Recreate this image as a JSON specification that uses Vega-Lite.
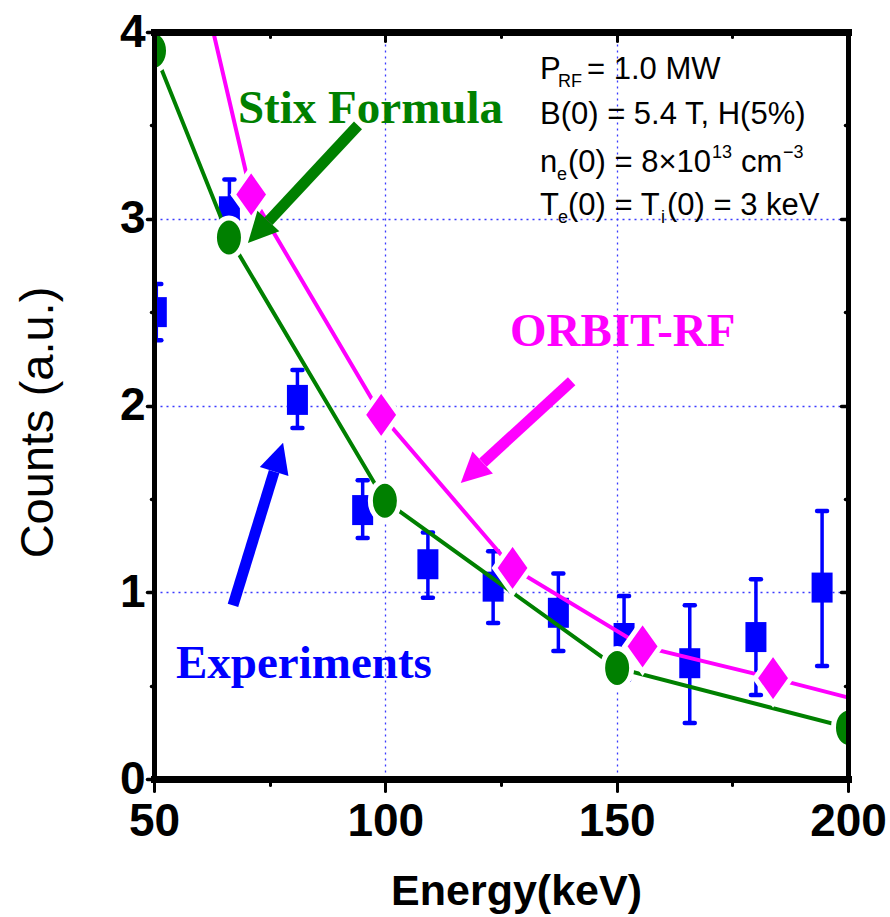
{
  "$schema": "https://vega.github.io/schema/vega-lite/v6.json",
  "width": 694,
  "height": 747,
  "autosize": {"type": "none"},
  "padding": {"left": 154, "top": 32, "right": 42, "bottom": 138},
  "background": "white",
  "config": {"view": {"stroke": null}},
  "datasets": {
    "experiments": [
      {"energy": 50.5, "counts": 2.50, "lo": 2.35, "hi": 2.65},
      {"energy": 66.3, "counts": 3.04, "lo": 2.87, "hi": 3.21},
      {"energy": 81.0, "counts": 2.03, "lo": 1.88, "hi": 2.19},
      {"energy": 95.1, "counts": 1.44, "lo": 1.29, "hi": 1.60},
      {"energy": 109.2, "counts": 1.15, "lo": 0.97, "hi": 1.32},
      {"energy": 123.3, "counts": 1.03, "lo": 0.835, "hi": 1.22},
      {"energy": 137.4, "counts": 0.89, "lo": 0.685, "hi": 1.10},
      {"energy": 151.6, "counts": 0.755, "lo": 0.53, "hi": 0.98},
      {"energy": 165.8, "counts": 0.62, "lo": 0.30, "hi": 0.93},
      {"energy": 180.1, "counts": 0.76, "lo": 0.45, "hi": 1.07},
      {"energy": 194.4, "counts": 1.025, "lo": 0.605, "hi": 1.435}
    ],
    "stix": [
      {"energy": 50, "counts": 3.90},
      {"energy": 66.2, "counts": 2.90},
      {"energy": 99.9, "counts": 1.49},
      {"energy": 150.1, "counts": 0.595},
      {"energy": 200, "counts": 0.275}
    ],
    "orbit": [
      {"energy": 60, "counts": 4.30},
      {"energy": 71.0, "counts": 3.13},
      {"energy": 99.1, "counts": 1.95},
      {"energy": 127.5, "counts": 1.13},
      {"energy": 155.6, "counts": 0.71},
      {"energy": 183.8, "counts": 0.54},
      {"energy": 212, "counts": 0.36}
    ],
    "arrows": [
      {"series": "Experiments", "tx": 67.07, "ty": 0.93, "bx": 75.96, "by": 1.646, "hx": 77.9, "hy": 1.80},
      {"series": "Stix Formula", "tx": 94.09, "ty": 3.50, "bx": 74.75, "by": 2.987, "hx": 70.3, "hy": 2.87},
      {"series": "ORBIT-RF", "tx": 140.27, "ty": 2.13, "bx": 121.1, "by": 1.694, "hx": 116.3, "hy": 1.585}
    ],
    "seriesLabels": [
      {"series": "Stix Formula", "x": 68.15, "y": 3.513},
      {"series": "ORBIT-RF", "x": 126.94, "y": 2.32},
      {"series": "Experiments", "x": 54.75, "y": 0.539}
    ],
    "paramsMain": [
      {"t": "P", "x": 133.42, "y": 3.748},
      {"t": "= 1.0 MW", "x": 143.58, "y": 3.748},
      {"t": "B(0) = 5.4 T, H(5%)", "x": 133.42, "y": 3.507},
      {"t": "n", "x": 133.42, "y": 3.250},
      {"t": "(0) = 8×10", "x": 139.48, "y": 3.250},
      {"t": "cm", "x": 176.87, "y": 3.250},
      {"t": "T", "x": 133.42, "y": 3.020},
      {"t": "(0) = T", "x": 139.48, "y": 3.020},
      {"t": "(0) = 3 keV", "x": 160.87, "y": 3.020}
    ],
    "paramsSmall": [
      {"t": "RF", "x": 137.31, "y": 3.706},
      {"t": "e", "x": 137.10, "y": 3.208},
      {"t": "13", "x": 170.60, "y": 3.325},
      {"t": "−3", "x": 185.94, "y": 3.325},
      {"t": "e", "x": 137.30, "y": 2.977},
      {"t": "i", "x": 159.57, "y": 2.977}
    ]
  },
  "resolve": {"axis": {"x": "independent", "y": "independent"}},
  "layer": [
    {
      "data": {"name": "experiments"},
      "mark": {"type": "rule", "color": "#0000ff", "strokeWidth": 3.5, "clip": true},
      "encoding": {
        "x": {"field": "energy", "type": "quantitative", "scale": {"domain": [50, 200], "nice": false, "zero": false},
          "axis": {"orient": "bottom", "values": [100, 150], "grid": true, "gridColor": "#3a3aff", "gridDash": [2, 4], "gridWidth": 1.3, "domain": false, "ticks": false, "labels": false, "title": null, "zindex": 0}},
        "y": {"field": "lo", "type": "quantitative", "scale": {"domain": [0, 4], "nice": false, "zero": false},
          "axis": {"orient": "left", "values": [1, 2, 3], "grid": true, "gridColor": "#3a3aff", "gridDash": [2, 4], "gridWidth": 1.3, "domain": false, "ticks": false, "labels": false, "title": null, "zindex": 0}},
        "y2": {"field": "hi"}
      }
    },
    {
      "data": {"name": "experiments"},
      "mark": {"type": "point", "shape": "M-1,0L1,0", "size": 100, "filled": false, "stroke": "#0000ff", "strokeWidth": 4.5, "strokeCap": "round", "opacity": 1, "clip": true},
      "encoding": {
        "x": {"field": "energy", "type": "quantitative", "scale": {"domain": [50, 200], "nice": false, "zero": false},
          "axis": {"orient": "bottom", "values": [50, 75, 100, 125, 150, 175, 200], "labelExpr": "datum.value % 50 === 0 ? format(datum.value, 'd') : ''",
            "grid": false, "zindex": 1, "domainColor": "black", "domainWidth": 7, "domainCap": "square",
            "tickColor": "black", "tickWidth": 3, "tickCap": "round", "tickSize": {"condition": {"test": "datum.value % 50 === 0", "value": 12}, "value": 6},
            "labelFont": "Liberation Sans", "labelFontWeight": "bold", "labelFontSize": 46, "labelColor": "black", "labelPadding": 8, "labelFlush": false, "labelOverlap": false, "labelBound": false,
            "title": "Energy(keV)", "titleFont": "Liberation Sans", "titleFontWeight": "bold", "titleFontSize": 43, "titleColor": "black", "titleX": 362, "titleY": 125, "titleAlign": "center", "titleBaseline": "alphabetic"}},
        "y": {"field": "lo", "type": "quantitative", "scale": {"domain": [0, 4], "nice": false, "zero": false},
          "axis": {"orient": "left", "values": [0, 0.5, 1, 1.5, 2, 2.5, 3, 3.5, 4], "labelExpr": "datum.value % 1 === 0 ? format(datum.value, 'd') : ''",
            "grid": false, "zindex": 1, "domainColor": "black", "domainWidth": 5, "domainCap": "square",
            "tickColor": "black", "tickWidth": 3.5, "tickCap": "round", "tickSize": {"condition": {"test": "datum.value % 1 === 0", "value": 7}, "value": 3},
            "labelFont": "Liberation Sans", "labelFontWeight": "bold", "labelFontSize": 46, "labelColor": "black", "labelPadding": 2, "labelFlush": false, "labelOverlap": false, "labelBound": false,
            "title": "Counts (a.u.)", "titleFont": "Liberation Sans", "titleFontWeight": "normal", "titleFontSize": 47, "titleColor": "black", "titleAngle": 270, "titleX": -116, "titleY": 390, "titleAlign": "center", "titleBaseline": "middle"}}
      }
    },
    {
      "data": {"name": "experiments"},
      "mark": {"type": "point", "shape": "M-1,0L1,0", "size": 100, "filled": false, "stroke": "#0000ff", "strokeWidth": 4.5, "strokeCap": "round", "opacity": 1, "clip": true},
      "encoding": {
        "x": {"field": "energy", "type": "quantitative", "scale": {"domain": [50, 200], "nice": false, "zero": false},
          "axis": {"orient": "top", "values": [50, 75, 100, 125, 150, 175, 200], "labels": false, "title": null, "grid": false, "zindex": 1,
            "domainColor": "black", "domainWidth": 7, "domainCap": "square", "tickColor": "black", "tickWidth": 3, "tickCap": "round",
            "tickSize": {"condition": {"test": "datum.value % 50 === 0", "value": -9}, "value": -5}}},
        "y": {"field": "hi", "type": "quantitative", "scale": {"domain": [0, 4], "nice": false, "zero": false},
          "axis": {"orient": "right", "values": [0, 0.5, 1, 1.5, 2, 2.5, 3, 3.5, 4], "labels": false, "title": null, "grid": false, "zindex": 1,
            "domainColor": "black", "domainWidth": 5, "domainCap": "square", "tickColor": "black", "tickWidth": 3.5, "tickCap": "round",
            "tickSize": {"condition": {"test": "datum.value % 1 === 0", "value": -7}, "value": -3}}}
      }
    },
    {
      "data": {"name": "experiments"},
      "mark": {"type": "point", "shape": "M-0.7,-1L0.7,-1L0.7,1L-0.7,1Z", "size": 900, "filled": true, "color": "#0000ff", "opacity": 1, "strokeWidth": 0, "clip": true},
      "encoding": {
        "x": {"field": "energy", "type": "quantitative", "scale": {"domain": [50, 200], "nice": false, "zero": false}, "axis": null},
        "y": {"field": "counts", "type": "quantitative", "scale": {"domain": [0, 4], "nice": false, "zero": false}, "axis": null}
      }
    },
    {
      "data": {"name": "stix"},
      "mark": {"type": "line", "color": "#008000", "strokeWidth": 4, "clip": true},
      "encoding": {
        "x": {"field": "energy", "type": "quantitative", "scale": {"domain": [50, 200], "nice": false, "zero": false}, "axis": null},
        "y": {"field": "counts", "type": "quantitative", "scale": {"domain": [0, 4], "nice": false, "zero": false}, "axis": null}
      }
    },
    {
      "data": {"name": "orbit"},
      "mark": {"type": "line", "color": "#ff00ff", "strokeWidth": 4, "clip": true},
      "encoding": {
        "x": {"field": "energy", "type": "quantitative", "scale": {"domain": [50, 200], "nice": false, "zero": false}, "axis": null},
        "y": {"field": "counts", "type": "quantitative", "scale": {"domain": [0, 4], "nice": false, "zero": false}, "axis": null}
      }
    },
    {
      "data": {"name": "stix"},
      "mark": {"type": "point", "shape": "M0,-1C0.411,-1 0.744,-0.552 0.744,0C0.744,0.552 0.411,1 0,1C-0.411,1 -0.744,0.552 -0.744,0C-0.744,-0.552 -0.411,-1 0,-1Z", "size": 1521, "filled": true, "fill": "#008000", "stroke": "white", "strokeWidth": 5, "opacity": 1, "strokeOpacity": 1, "clip": true},
      "encoding": {
        "x": {"field": "energy", "type": "quantitative", "scale": {"domain": [50, 200], "nice": false, "zero": false}, "axis": null},
        "y": {"field": "counts", "type": "quantitative", "scale": {"domain": [0, 4], "nice": false, "zero": false}, "axis": null}
      }
    },
    {
      "data": {"name": "orbit"},
      "mark": {"type": "point", "shape": "M0,-1L0.71,0L0,1L-0.71,0Z", "size": 2560, "filled": true, "fill": "#ff00ff", "stroke": "white", "strokeWidth": 5, "opacity": 1, "strokeOpacity": 1, "clip": true},
      "encoding": {
        "x": {"field": "energy", "type": "quantitative", "scale": {"domain": [50, 200], "nice": false, "zero": false}, "axis": null},
        "y": {"field": "counts", "type": "quantitative", "scale": {"domain": [0, 4], "nice": false, "zero": false}, "axis": null}
      }
    },
    {
      "data": {"name": "arrows"},
      "mark": {"type": "rule", "strokeWidth": 11, "strokeCap": "butt"},
      "encoding": {
        "x": {"field": "tx", "type": "quantitative", "scale": {"domain": [50, 200], "nice": false, "zero": false}, "axis": null},
        "y": {"field": "ty", "type": "quantitative", "scale": {"domain": [0, 4], "nice": false, "zero": false}, "axis": null},
        "x2": {"field": "bx"},
        "y2": {"field": "by"},
        "color": {"field": "series", "type": "nominal", "scale": {"domain": ["Experiments", "Stix Formula", "ORBIT-RF"], "range": ["#0000ff", "#008000", "#ff00ff"]}, "legend": null}
      }
    },
    {
      "data": {"name": "arrows"},
      "transform": [{"filter": "datum.series === 'Experiments'"}],
      "mark": {"type": "point", "shape": "M0,0L0.5,1L-0.5,1Z", "size": 3600, "filled": true, "color": "#0000ff", "opacity": 1, "strokeWidth": 0, "angle": 17.4},
      "encoding": {
        "x": {"field": "hx", "type": "quantitative", "scale": {"domain": [50, 200], "nice": false, "zero": false}, "axis": null},
        "y": {"field": "hy", "type": "quantitative", "scale": {"domain": [0, 4], "nice": false, "zero": false}, "axis": null}
      }
    },
    {
      "data": {"name": "arrows"},
      "transform": [{"filter": "datum.series === 'Stix Formula'"}],
      "mark": {"type": "point", "shape": "M0,0L0.5,1L-0.5,1Z", "size": 3600, "filled": true, "color": "#008000", "opacity": 1, "strokeWidth": 0, "angle": 223},
      "encoding": {
        "x": {"field": "hx", "type": "quantitative", "scale": {"domain": [50, 200], "nice": false, "zero": false}, "axis": null},
        "y": {"field": "hy", "type": "quantitative", "scale": {"domain": [0, 4], "nice": false, "zero": false}, "axis": null}
      }
    },
    {
      "data": {"name": "arrows"},
      "transform": [{"filter": "datum.series === 'ORBIT-RF'"}],
      "mark": {"type": "point", "shape": "M0,0L0.5,1L-0.5,1Z", "size": 3600, "filled": true, "color": "#ff00ff", "opacity": 1, "strokeWidth": 0, "angle": 227},
      "encoding": {
        "x": {"field": "hx", "type": "quantitative", "scale": {"domain": [50, 200], "nice": false, "zero": false}, "axis": null},
        "y": {"field": "hy", "type": "quantitative", "scale": {"domain": [0, 4], "nice": false, "zero": false}, "axis": null}
      }
    },
    {
      "data": {"name": "seriesLabels"},
      "mark": {"type": "text", "font": "Liberation Serif", "fontWeight": "bold", "fontSize": 47, "align": "left", "baseline": "alphabetic"},
      "encoding": {
        "x": {"field": "x", "type": "quantitative", "scale": {"domain": [50, 200], "nice": false, "zero": false}, "axis": null},
        "y": {"field": "y", "type": "quantitative", "scale": {"domain": [0, 4], "nice": false, "zero": false}, "axis": null},
        "text": {"field": "series"},
        "color": {"field": "series", "type": "nominal", "scale": {"domain": ["Experiments", "Stix Formula", "ORBIT-RF"], "range": ["#0000ff", "#008000", "#ff00ff"]}, "legend": null}
      }
    },
    {
      "data": {"name": "paramsMain"},
      "mark": {"type": "text", "font": "Liberation Sans", "fontSize": 31, "align": "left", "baseline": "alphabetic", "color": "black"},
      "encoding": {
        "x": {"field": "x", "type": "quantitative", "scale": {"domain": [50, 200], "nice": false, "zero": false}, "axis": null},
        "y": {"field": "y", "type": "quantitative", "scale": {"domain": [0, 4], "nice": false, "zero": false}, "axis": null},
        "text": {"field": "t"}
      }
    },
    {
      "data": {"name": "paramsSmall"},
      "mark": {"type": "text", "font": "Liberation Sans", "fontSize": 18, "align": "left", "baseline": "alphabetic", "color": "black"},
      "encoding": {
        "x": {"field": "x", "type": "quantitative", "scale": {"domain": [50, 200], "nice": false, "zero": false}, "axis": null},
        "y": {"field": "y", "type": "quantitative", "scale": {"domain": [0, 4], "nice": false, "zero": false}, "axis": null},
        "text": {"field": "t"}
      }
    }
  ]
}
